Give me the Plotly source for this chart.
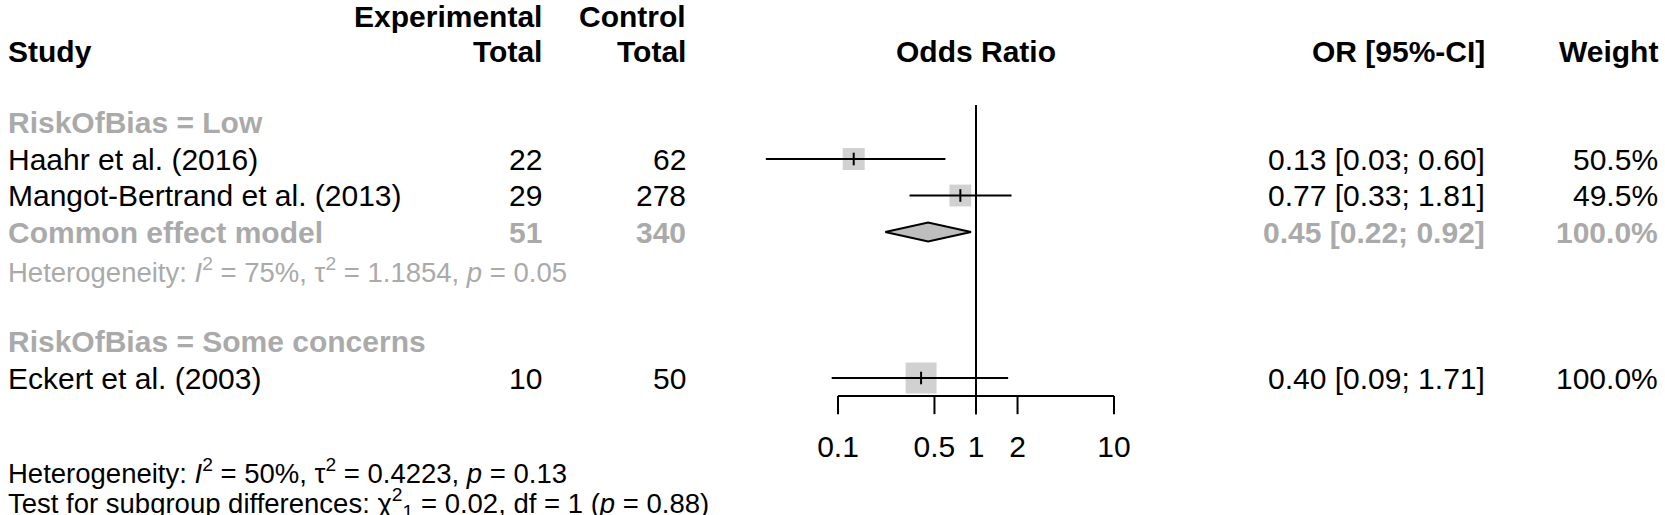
import numpy as np
import plotly.graph_objects as go

# ---------------- data ----------------
studies = ["Haahr et al. (2016)", "Mangot-Bertrand et al. (2013)", "Eckert et al. (2003)"]
exp_total = [22, 29, 10]
ctrl_total = [62, 278, 50]
or_est = [0.13, 0.77, 0.40]
ci_lo = [0.03, 0.33, 0.09]
ci_hi = [0.60, 1.81, 1.71]
weights = [50.5, 49.5, 100.0]
study_rows = [5, 6, 11]

subgroup_labels = ["RiskOfBias = Low", "RiskOfBias = Some concerns"]
subgroup_rows = [4, 10]

common_label = "Common effect model"
common_exp_total = 51
common_ctrl_total = 340
common_or = 0.45
common_lo = 0.22
common_hi = 0.92
common_weight = 100.0
common_row = 7

het_low = "Heterogeneity: <i>I</i><sup>2</sup> = 75%, τ<sup>2</sup> = 1.1854, <i>p</i> = 0.05"
het_all = "Heterogeneity: <i>I</i><sup>2</sup> = 50%, τ<sup>2</sup> = 0.4223, <i>p</i> = 0.13"
test_sub = "Test for subgroup differences: χ<sup>2</sup><sub>1</sub> = 0.02, df = 1 (<i>p</i> = 0.88)"

tick_vals = [0.1, 0.5, 1, 2, 10]
tick_text = ["0.1", "0.5", "1", "2", "10"]

# ---------------- layout helpers ----------------
W, H = 1665, 515
FONT = "Liberation Sans, Arial, Helvetica, sans-serif"
FS = 30
FS_HET = 27.5
BLACK = "#000000"
GRAY_TXT = "#aaaaaa"
GRAY_FILL = "#bebebe"

# x axis: log scale, 0.1 -> 838px, 10 -> 1114px
px_per_dec = (1114 - 838) / 2.0
x_left = -1 - 838 / px_per_dec
x_right = 1 + (W - 1114) / px_per_dec
# y axis in row units: row 5 -> 159px, row height 36.5px
row_h = 36.5
y_top = 5 - 159 / row_h
y_bot = 5 + (H - 159) / row_h

def px(x):
    return x / W

fig = go.Figure()

# squares (area ~ weight)
sizes = [31 * np.sqrt(w / 100.0) for w in weights]
fig.add_trace(go.Scatter(x=or_est, y=study_rows, mode="markers",
                         marker=dict(symbol="square", size=sizes, color=GRAY_FILL,
                                     line=dict(width=0)),
                         hoverinfo="skip", showlegend=False))
# CI lines
for lo, hi, r in zip(ci_lo, ci_hi, study_rows):
    fig.add_trace(go.Scatter(x=[lo, hi], y=[r, r], mode="lines",
                             line=dict(color=BLACK, width=2), hoverinfo="skip", showlegend=False))
# point estimate tick
fig.add_trace(go.Scatter(x=or_est, y=study_rows, mode="markers",
                         marker=dict(symbol="line-ns", size=9,
                                     line=dict(width=2, color=BLACK)),
                         hoverinfo="skip", showlegend=False))

# diamond
dh = 0.26
fig.add_trace(go.Scatter(
    x=[common_lo, common_or, common_hi, common_or, common_lo],
    y=[common_row, common_row - dh, common_row, common_row + dh, common_row],
    mode="lines", fill="toself", fillcolor=GRAY_FILL,
    line=dict(color=BLACK, width=2), hoverinfo="skip", showlegend=False))

# line of no effect
fig.add_trace(go.Scatter(x=[1, 1], y=[3.52, 11.99], mode="lines",
                         line=dict(color=BLACK, width=2), hoverinfo="skip", showlegend=False))

# axis
axis_row = 11.49
tick_end = 11.99
fig.add_trace(go.Scatter(x=[tick_vals[0], tick_vals[-1]], y=[axis_row, axis_row], mode="lines",
                         line=dict(color=BLACK, width=2), hoverinfo="skip", showlegend=False))
for tv in tick_vals:
    fig.add_trace(go.Scatter(x=[tv, tv], y=[axis_row, tick_end], mode="lines",
                             line=dict(color=BLACK, width=2), hoverinfo="skip", showlegend=False))
fig.add_trace(go.Scatter(x=tick_vals, y=[12.95] * len(tick_vals), mode="text",
                         text=tick_text, textposition="middle center",
                         textfont=dict(family=FONT, size=FS, color=BLACK),
                         hoverinfo="skip", showlegend=False))

ann = []

def txt(x_px, row, text, anchor="left", bold=False, color=BLACK, size=FS):
    t = f"<b>{text}</b>" if bold else text
    ann.append(dict(x=px(x_px), xref="paper", y=row, yref="y", text=t, showarrow=False,
                    xanchor=anchor, yanchor="middle",
                    font=dict(family=FONT, size=size, color=color)))

X_STUDY = 6
X_EXP = 544
X_CTRL = 688
X_OR = 1487
X_W = 1660

# headers
txt(X_EXP, 1.1, "Experimental", "right", True)
txt(X_CTRL, 1.1, "Control", "right", True)
txt(X_STUDY, 2.05, "Study", "left", True)
txt(X_EXP, 2.05, "Total", "right", True)
txt(X_CTRL, 2.05, "Total", "right", True)
txt(976, 2.05, "Odds Ratio", "center", True)
txt(X_OR, 2.05, "OR [95%-CI]", "right", True)
txt(X_W, 2.05, "Weight", "right", True)

# subgroup labels
for lab, r in zip(subgroup_labels, subgroup_rows):
    txt(X_STUDY, r, lab, "left", True, GRAY_TXT)

# studies
for s, e, c, o, lo, hi, w, r in zip(studies, exp_total, ctrl_total, or_est, ci_lo, ci_hi, weights, study_rows):
    txt(X_STUDY, r, s)
    txt(X_EXP, r, str(e), "right")
    txt(X_CTRL, r, str(c), "right")
    txt(X_OR, r, f"{o:.2f} [{lo:.2f}; {hi:.2f}]", "right")
    txt(X_W, r, f"{w:.1f}%", "right")

# common effect
txt(X_STUDY, common_row, common_label, "left", True, GRAY_TXT)
txt(X_EXP, common_row, str(common_exp_total), "right", True, GRAY_TXT)
txt(X_CTRL, common_row, str(common_ctrl_total), "right", True, GRAY_TXT)
txt(X_OR, common_row, f"{common_or:.2f} [{common_lo:.2f}; {common_hi:.2f}]", "right", True, GRAY_TXT)
txt(X_W, common_row, f"{common_weight:.1f}%", "right", True, GRAY_TXT)

txt(X_STUDY, 8.05, het_low, "left", False, GRAY_TXT, FS_HET)
txt(X_STUDY, 13.55, het_all, "left", False, BLACK, FS_HET)
txt(X_STUDY, 14.42, test_sub, "left", False, BLACK, FS_HET)

fig.update_layout(
    width=W, height=H, autosize=False,
    margin=dict(l=0, r=0, t=0, b=0),
    paper_bgcolor="white", plot_bgcolor="white",
    xaxis=dict(type="log", range=[x_left, x_right], visible=False, domain=[0, 1], fixedrange=True),
    yaxis=dict(range=[y_bot, y_top], visible=False, domain=[0, 1], fixedrange=True),
    annotations=ann,
    showlegend=False,
)

fig.write_html("out.html",
               config={"displayModeBar": False},
               post_script="document.body.style.margin='0';document.body.style.overflow='hidden';")
